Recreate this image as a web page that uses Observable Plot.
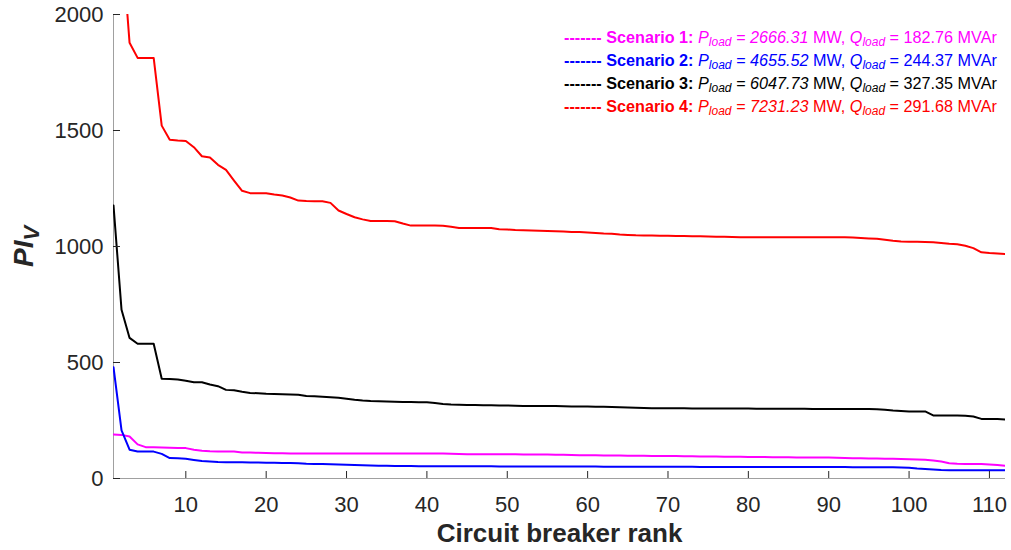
<!DOCTYPE html>
<html>
<head>
<meta charset="utf-8">
<script src="https://cdn.jsdelivr.net/npm/d3@7"></script>
<script src="https://cdn.jsdelivr.net/npm/@observablehq/plot@0.6"></script>
<style>
  body { margin: 0; background: #fff; }
  #wrap { position: relative; width: 1011px; height: 550px; font-family: "Liberation Sans", Arial, sans-serif; }
  #legend { position: absolute; left: 564px; top: 26px; font-size: 16.2px; line-height: 23px; white-space: nowrap; }
  #legend sub { font-size: 12px; vertical-align: -3px; line-height: 0; }
  #legend b { font-weight: bold; }
</style>
</head>
<body>
<div id="wrap"><div id="legend"></div></div>
<script>
// Voltage performance index PI_V for each circuit breaker, sorted by rank (1..112)
const scenarioNames = ["Scenario 1", "Scenario 2", "Scenario 3", "Scenario 4"];
const scenarioColors = ["#ff00ff", "#0000ff", "#000000", "#ff0000"];
const pLoad = ["2666.31", "4655.52", "6047.73", "7231.23"];
const qLoad = ["182.76", "244.37", "327.35", "291.68"];

const scenario1 = [
  190, 188, 181, 147, 135, 135, 134, 133, 132, 131,
  124, 120, 117, 116, 116, 116, 112, 112, 111, 110,
  109, 109, 108, 108, 108, 108, 108, 108, 108, 108,
  108, 108, 108, 108, 108, 108, 108, 108, 108, 108,
  108, 108, 107, 106, 105, 105, 105, 104, 104, 104,
  104, 103, 103, 103, 103, 102, 102, 101, 100, 100,
  100, 99, 99, 99, 98, 98, 98, 97, 97, 97,
  97, 96, 96, 95, 95, 95, 94, 94, 94, 93,
  93, 93, 92, 92, 92, 91, 91, 91, 90, 90,
  89, 88, 87, 87, 86, 86, 85, 85, 84, 83,
  82, 81, 78, 73, 66, 64, 63, 62, 62, 60,
  58, 55
];
const scenario2 = [
  480, 207, 124, 116, 116, 116, 106, 88, 87, 85,
  80, 75, 73, 71, 70, 70, 70, 69, 69, 68,
  68, 67, 67, 66, 64, 63, 62, 61, 60, 59,
  58, 57, 56, 55, 55, 54, 54, 54, 53, 53,
  53, 53, 53, 53, 53, 53, 53, 53, 52, 52,
  52, 52, 52, 52, 52, 52, 52, 52, 52, 52,
  52, 51, 51, 51, 51, 51, 51, 51, 51, 51,
  51, 51, 51, 50, 50, 50, 50, 50, 50, 50,
  50, 50, 50, 50, 50, 50, 50, 50, 50, 50,
  50, 50, 49, 49, 49, 48, 48, 48, 47, 46,
  43, 41, 39, 37, 36, 36, 36, 36, 36, 36,
  36, 36
];
const scenario3 = [
  1177, 727, 606, 581, 581, 581, 430, 429, 427, 421,
  415, 415, 405, 398, 382, 380, 374, 369, 367, 365,
  364, 363, 362, 361, 356, 354, 352, 350, 348, 344,
  339, 336, 334, 333, 332, 331, 330, 330, 329, 329,
  325, 321, 319, 318, 317, 317, 316, 316, 315, 315,
  314, 313, 313, 312, 312, 312, 311, 310, 310, 310,
  309, 309, 308, 307, 306, 305, 304, 303, 303, 303,
  303, 303, 302, 302, 302, 302, 302, 302, 302, 302,
  301, 301, 301, 301, 301, 301, 301, 300, 300, 300,
  300, 300, 300, 300, 300, 299, 296, 293, 291, 289,
  289, 289, 272, 272, 272, 272, 270, 267, 257, 257,
  256, 254
];
const scenario4 = [
  2700, 2330, 1878, 1813, 1813, 1813, 1521, 1460, 1457, 1455,
  1428, 1389, 1384, 1352, 1330, 1284, 1240, 1230, 1230, 1230,
  1224, 1220, 1211, 1198, 1196, 1195, 1195, 1188, 1155, 1140,
  1126, 1117, 1110, 1110, 1110, 1109, 1099, 1090, 1090, 1090,
  1090, 1089, 1085, 1080, 1080, 1080, 1080, 1080, 1074, 1073,
  1071, 1070, 1069, 1068, 1067, 1066, 1065, 1063, 1062, 1060,
  1058, 1056, 1055, 1052, 1050, 1048, 1047, 1047, 1046, 1046,
  1045, 1045, 1044, 1044, 1043, 1042, 1042, 1041, 1040, 1040,
  1040, 1040, 1040, 1040, 1040, 1040, 1040, 1040, 1040, 1040,
  1040, 1040, 1039, 1037, 1035, 1033, 1029, 1025, 1022, 1021,
  1020, 1019, 1018, 1015, 1012, 1010, 1003, 993, 975, 972,
  970, 968
];

const xTicks = [10, 20, 30, 40, 50, 60, 70, 80, 90, 100, 110];
const yTicks = [0, 500, 1000, 1500, 2000];

const seriesValues = [scenario1, scenario2, scenario3, scenario4];
const rows = [];
seriesValues.forEach((values, s) => {
  values.forEach((v, i) => rows.push({rank: i + 1, value: v, scenario: scenarioNames[s]}));
});

const ink = "#262626";
const axisGrey = "#a0a0a0";
const tickLen = 7;
const frameW = 1011 - 113 - 6;
const frameH = 550 - 14 - 72;

const chart = Plot.plot({
  width: 1011,
  height: 550,
  marginLeft: 113,
  marginRight: 6,
  marginTop: 14,
  marginBottom: 72,
  style: {fontFamily: "'Liberation Sans', Arial, sans-serif", color: ink, background: "#fff"},
  x: {domain: [1, 112]},
  y: {domain: [0, 2000]},
  color: {domain: scenarioNames, range: scenarioColors},
  marks: [
    Plot.ruleX([1], {stroke: axisGrey, strokeWidth: 1}),
    Plot.ruleY([0], {stroke: axisGrey, strokeWidth: 1}),
    Plot.line(rows, {x: "rank", y: "value", z: "scenario", stroke: "scenario", strokeWidth: 2, clip: true}),
    // inward tick marks
    Plot.tickX(xTicks, {x: d => d, stroke: ink, insetTop: frameH - tickLen}),
    Plot.tickY(yTicks, {y: d => d, stroke: ink, insetRight: frameW - tickLen}),
    Plot.axisX({ticks: xTicks, tickSize: 0, tickPadding: 18, fontSize: 22, fill: ink, label: null}),
    Plot.axisY({ticks: yTicks, tickSize: 0, tickPadding: 10, fontSize: 22, fill: ink, label: null, tickFormat: d => String(d)}),
    Plot.text(["Circuit breaker rank"], {frameAnchor: "bottom", lineAnchor: "middle", dy: 55, fontSize: 26, fontWeight: "bold", fill: ink})
  ]
});

// y-axis title: PI with subscript V
const svg = d3.select(chart);
const yTitle = svg.append("text")
  .attr("transform", "translate(33,267) rotate(-90)")
  .attr("text-anchor", "start")
  .attr("fill", ink)
  .attr("font-weight", "bold")
  .attr("font-style", "italic")
  .attr("font-family", "'Liberation Sans', Arial, sans-serif");
yTitle.append("tspan").attr("font-size", 28).text("PI");
yTitle.append("tspan").attr("font-size", 22).attr("dy", 6).text("V");

document.getElementById("wrap").prepend(chart);

// Legend with load values per scenario
const legend = d3.select("#legend");
scenarioNames.forEach((name, i) => {
  const row = legend.append("div").style("color", scenarioColors[i]);
  row.html(
    `<b>------- ${name}:</b> <i>P<sub>load</sub> = ${pLoad[i]}</i> MW, ` +
    `<i>Q<sub>load</sub></i> = ${qLoad[i]} MVAr`
  );
});
</script>
</body>
</html>
